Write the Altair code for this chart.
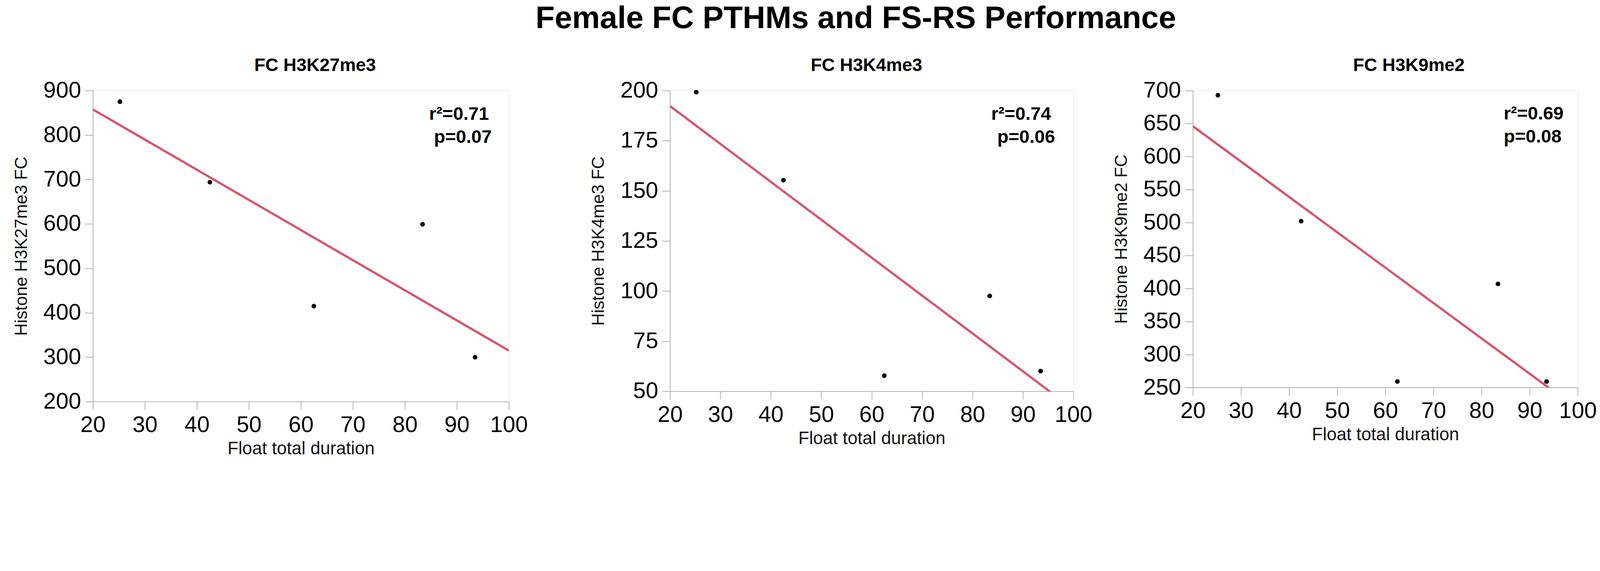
import altair as alt
import pandas as pd

# ---- data ----
float_duration = [25.2, 42.5, 62.5, 83.4, 93.5]
h3k27me3 = [875, 694, 415, 599, 300]
h3k4me3 = [199.2, 155.3, 57.8, 97.6, 60.1]
h3k9me2 = [693, 502, 259, 407, 259]

panel_titles = ["FC H3K27me3", "FC H3K4me3", "FC H3K9me2"]
y_titles = ["Histone H3K27me3 FC", "Histone H3K4me3 FC", "Histone H3K9me2 FC"]
y_domains = [[200, 900], [50, 200], [250, 700]]
y_ticks = [list(range(200, 901, 100)), list(range(50, 201, 25)), list(range(250, 701, 50))]
x_ticks = list(range(20, 101, 10))

ann_text = [["r²=0.71", "p=0.07"], ["r²=0.74", "p=0.06"], ["r²=0.69", "p=0.08"]]
ann_x = [[84.66, 85.6], [83.7, 84.9], [84.6, 84.6]]
ann_y = [[834.6, 782.4], [185.5, 173.9], [656.5, 621.2]]

RED = "#d6566b"
GRAY = "#b3b3b3"
FONT = "Liberation Sans"


def panel(i, values, w, h, title_dx):
    df = pd.DataFrame({"x": float_duration, "y": values})
    xs = alt.Scale(domain=[20, 100], nice=False, zero=False)
    ys = alt.Scale(domain=y_domains[i], nice=False, zero=False)
    xaxis = alt.Axis(values=x_ticks, title="Float total duration", grid=False,
                     labelFontSize=70, titleFontSize=55, titleFontWeight="normal",
                     tickSize=25, tickWidth=2.5, tickColor=GRAY, domainColor=GRAY,
                     domainWidth=2.5, labelColor="black", titleColor="#111",
                     labelPadding=14, titlePadding=12, labelFlush=False,
                     labelOverlap=False, labelFont=FONT, titleFont=FONT)
    yaxis = alt.Axis(values=y_ticks[i], title=y_titles[i], grid=False,
                     labelFontSize=70, titleFontSize=54, titleFontWeight="normal",
                     tickSize=25, tickWidth=2.5, tickColor=GRAY, domainColor=GRAY,
                     domainWidth=2.5, labelColor="black", titleColor="#111",
                     labelPadding=12, titlePadding=40, labelFlush=False,
                     labelOverlap=False, labelFont=FONT, titleFont=FONT)
    base = alt.Chart(df)
    line = base.transform_regression("x", "y", extent=[20, 100]).mark_line(
        color=RED, strokeWidth=7, clip=True
    ).encode(x=alt.X("x:Q", scale=xs, axis=xaxis), y=alt.Y("y:Q", scale=ys, axis=yaxis))
    pts = base.mark_circle(size=210, color="black", opacity=1).encode(
        x=alt.X("x:Q", scale=xs), y=alt.Y("y:Q", scale=ys)
    )
    adf = pd.DataFrame({"x": ann_x[i], "y": ann_y[i], "t": ann_text[i]})
    txt = alt.Chart(adf).mark_text(
        align="left", baseline="alphabetic", fontSize=57, fontWeight="bold",
        font=FONT, color="black"
    ).encode(x=alt.X("x:Q", scale=xs), y=alt.Y("y:Q", scale=ys), text="t:N")
    return alt.layer(line, pts, txt).properties(
        width=w, height=h,
        title=alt.TitleParams(panel_titles[i], fontSize=56, fontWeight="bold",
                              font=FONT, color="black",
                              frame="group", offset=14, dx=title_dx),
    )


p1 = panel(0, h3k27me3, 1288, 964, 44)
p2 = panel(1, h3k4me3, 1249, 932, -16)
p3 = panel(2, h3k9me2, 1192, 920, 73)

inner = alt.hconcat(p2, p3, spacing=62)
chart = alt.hconcat(p1, inner, spacing=191).properties(
    title=alt.TitleParams("Female FC PTHMs and FS-RS Performance", fontSize=97,
                          fontWeight="bold", font=FONT, color="black",
                          anchor="middle", offset=67, dx=158),
    padding={"left": 29, "top": -126, "right": 0, "bottom": -91},
).configure_view(stroke=GRAY, strokeWidth=2.5).configure(background="white")

chart.save("out.html", embed_options={"renderer": "svg", "actions": False})
